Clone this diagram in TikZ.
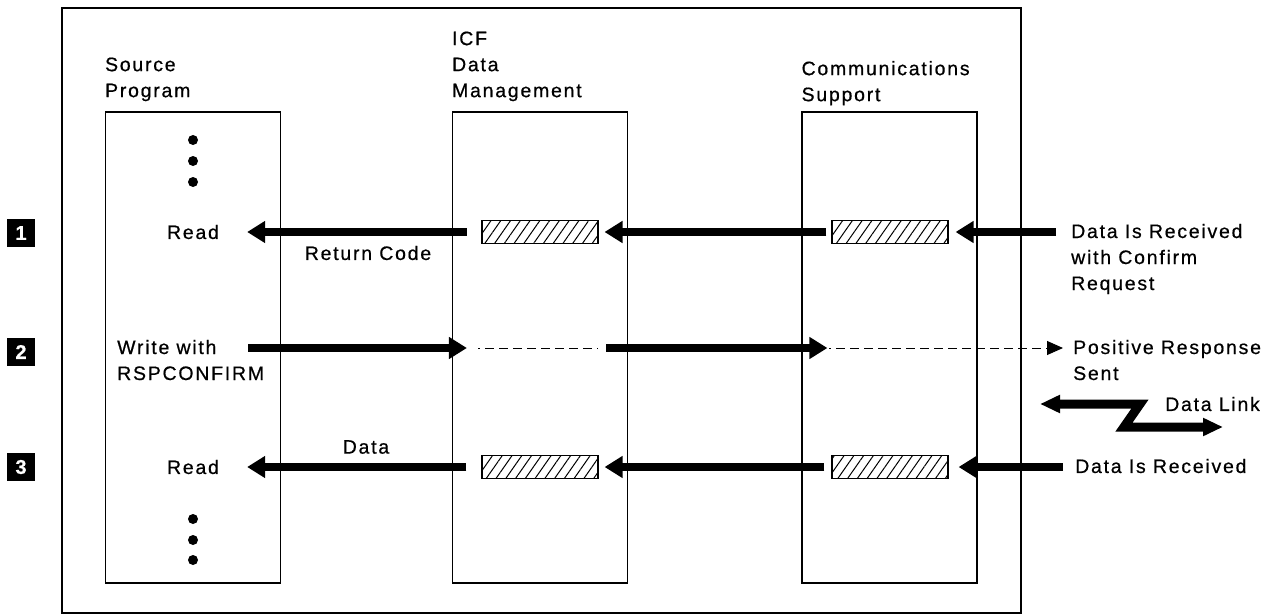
\documentclass[tikz,border=0pt]{standalone}
\usepackage{fontspec}
\setmainfont{Liberation Sans}[LetterSpace=9, FakeBold=0.6]
\usepackage{tikz}
\usetikzlibrary{calc, positioning, arrows.meta, patterns.meta}

\tikzset{
  lbl/.style={font=\fontsize{19.5}{26}\selectfont, inner sep=0pt, align=left},
  hdr/.style={lbl, anchor=south west},
  column/.style={draw, line width=1.2pt, minimum width=175pt, minimum height=471pt, inner sep=0pt},
  hatchbox/.style={draw, line width=1.2pt, minimum width=116pt, minimum height=23pt, inner sep=0pt,
    pattern={Lines[angle=55, distance=8pt, line width=1pt]}},
  numbox/.style={fill=black, text=white, minimum size=28pt, inner sep=0pt,
    font=\bfseries\fontsize{20}{20}\selectfont},
  bigarrow/.style={line width=8pt, -{Triangle[length=18pt, width=21pt]}},
  thindash/.style={line width=1pt, dash pattern=on 2pt off 5pt on 9pt off 5pt on 9pt off 5pt on 9pt off 5pt on 9pt off 5pt on 9pt off 5pt on 9pt off 5pt on 9pt off 5pt on 9pt off 5pt on 9pt off 5pt on 9pt off 5pt on 9pt off 5pt on 9pt off 5pt on 9pt off 5pt on 9pt off 5pt on 9pt off 5pt},
  linkarrow/.style={line width=9pt, miter limit=10, line join=miter,
    {Triangle[length=20pt, width=17pt]}-{Triangle[length=20pt, width=17pt]}}
}

\begin{document}
\begin{tikzpicture}[x=1pt, y=-1pt]
  \useasboundingbox (0,0) rectangle (1287,615);
  \draw[line width=1.5pt] (62,8) rectangle (1021,613);

  % step numbers
  \node[numbox] (n1) at (21,233) {1};
  \node[numbox] (n2) at (21,352) {2};
  \node[numbox] (n3) at (21,467) {3};

  % rows
  \coordinate (rA) at (0,232);
  \coordinate (rB) at (0,348);
  \coordinate (rC) at (0,467);

  % the three columns
  \node[column] (src) at (193,347.5) {};
  \node[column] (icf) at (540,347.5) {};
  \node[column] (com) at (889.5,347.5) {};
  \node[hdr, above=10pt of src.north west, anchor=south west] (srcT) {Source\\Program};
  \node[hdr, above=10pt of icf.north west, anchor=south west] (icfT) {ICF\\Data\\Management};
  \node[hdr, above=6pt of com.north west, anchor=south west] (comT) {Communications\\Support};

  \foreach \y in {140,161,182,519,540,560} {
    \fill (193,\y) circle (5pt);
  }

  % buffers
  \node[hatchbox] (icfA) at (540,232) {};
  \node[hatchbox] (comA) at (890,232) {};
  \node[hatchbox] (icfC) at (540,467) {};
  \node[hatchbox] (comC) at (890,467) {};
  \coordinate (icfB) at (540,348);

  % texts (base = last line)
  \node[lbl] (readA) at (193,232) {Read};
  \node[lbl] (retA) at (368,253) {Return Code};
  \node[lbl, anchor=base west] (writeB) at (117,380) {Write with\\RSPCONFIRM};
  \node[lbl] (readC) at (193,467) {Read};
  \node[lbl] (dataC) at (366,447) {Data};
  \node[lbl, anchor=base west] (rcvA) at (1071,290) {Data Is Received\\with Confirm\\Request};
  \node[lbl, anchor=base west] (posB) at (1073,380) {Positive Response\\Sent};
  \node[lbl, anchor=west] (dlink) at (1165,404) {Data Link};
  \node[lbl, anchor=west] (rcvC) at (1075,466) {Data Is Received};

  % 1
  \draw[bigarrow] ($(rcvA.west |- rA)+(-15,0)$) -- ($(comA.east)+(7,0)$);
  \draw[bigarrow] ($(comA.west)+(-5,0)$) -- ($(icfA.east)+(6,0)$);
  \draw[bigarrow] ($(icfA.west)+(-15,0)$) -- ($(readA.east)+(28,0)$);

  % 2
  \draw[bigarrow] ($(src.east |- rB)+(-33,0)$) -- ($(icf.west |- rB)+(15,0)$);
  \draw[thindash] ($(icfB)+(-62,0)$) -- ($(icfB)+(58,0)$);
  \draw[bigarrow] ($(icfB)+(66,0)$) -- ($(com.west |- rB)+(26,0)$);
  \draw[thindash, -{Triangle[length=16pt, width=14pt]}] ($(com.west |- rB)+(28,0)$) -- ($(posB.west |- rB)+(-10,0)$);

  % 3
  \draw[bigarrow] ($(rcvC.west |- rC)+(-12,0)$) -- ($(comC.east)+(10,0)$);
  \draw[bigarrow] ($(comC.west)+(-7,0)$) -- ($(icfC.east)+(6,0)$);
  \draw[bigarrow] ($(icfC.west)+(-15,0)$) -- ($(readC.east)+(28,0)$);

  % data link
  \draw[linkarrow] ($(dlink.west)+(-125,0)$) -- ++(100,0) -- ++(-16,23) -- ++(99,0);
\end{tikzpicture}
\end{document}
